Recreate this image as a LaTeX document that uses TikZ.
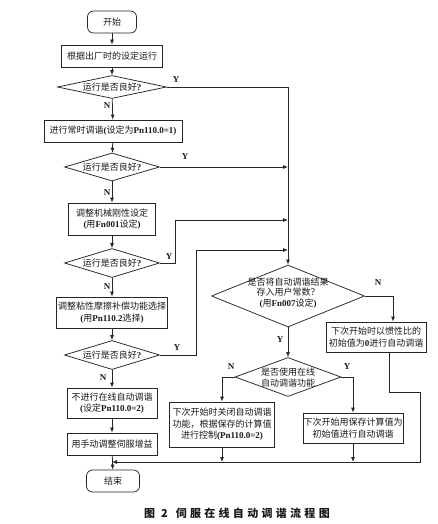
\documentclass[tikz,border=0pt]{standalone}
\usepackage{fontspec}
\setmainfont{Noto Sans CJK SC}
\newfontfamily\tnr{Liberation Serif}
\newfontfamily\capfont[LetterSpace=30]{Noto Sans CJK SC}
\newcommand\lt[1]{{\tnr\bfseries #1}}
\usetikzlibrary{shapes.geometric,arrows.meta}
\begin{document}
\begin{tikzpicture}[x=1pt,y=-1pt,
  every node/.style={font=\fontsize{9}{11.5}\selectfont, text=black!90, inner sep=0pt},
  box/.style={draw=black!85, line width=0.75pt, rectangle, align=center},
  term/.style={box, rounded corners=6pt},
  dia/.style={draw=black!85, line width=0.75pt, diamond, inner sep=0pt},
  line/.style={draw=black!85, line width=0.75pt},
  arr/.style={line, -{Latex[length=5pt,width=4pt]}},
  lab/.style={font=\tnr\bfseries\fontsize{9}{9}\selectfont}
]
\useasboundingbox (0,0) rectangle (437,524);
\fill[white] (0,0) rectangle (437,524);

% left column
\node[term, minimum width=49, minimum height=22] (st) at (112,22) {开始};
\node[box, minimum width=101, minimum height=22] (b1) at (112,56) {根据出厂时的设定运行};
\node[dia, minimum width=109, minimum height=23] (d1) at (112,87) {};
\node (d1t) at (112,87.5) {运行是否良好\lt{?}};
\node[box, minimum width=138, minimum height=22] (b2) at (113,131) {进行常时调谐\lt{(}设定为\lt{Pn110.0=1)}};
\node[dia, minimum width=95, minimum height=28] (d2) at (112,167) {};
\node (d2t) at (112,167.5) {运行是否良好\lt{?}};
\node[box, minimum width=87, minimum height=32] (b3) at (112,219) {调整机械刚性设定\\\lt{(}用\lt{Fn001}设定\lt{)}};
\node[dia, minimum width=95, minimum height=29] (d3) at (112,263) {};
\node (d3t) at (112,263.5) {运行是否良好\lt{?}};
\node[box, minimum width=111, minimum height=31] (b4) at (112,312.5) {调整粘性摩擦补偿功能选择\\\lt{(}用\lt{Pn110.2}选择\lt{)}};
\node[dia, minimum width=95, minimum height=29] (d4) at (112,355) {};
\node (d4t) at (112,355.5) {运行是否良好\lt{?}};
\node[box, minimum width=90, minimum height=30] (b5) at (112,403) {不进行在线自动调谐\\\lt{(}设定\lt{Pn110.0=2)}};
\node[box, minimum width=90, minimum height=22] (b6) at (112,444) {用手动调整伺服增益};
\node[term, minimum width=53, minimum height=22] (en) at (113,481) {结束};

% right part
\node[dia, minimum width=153, minimum height=62] (d5) at (288,296) {};
\node[align=center, font=\fontsize{9}{10.5}\selectfont] (d5t) at (288,293) {是否将自动调谐结果\\存入用户常数？\\\lt{(}用\lt{Fn007}设定\lt{)}};
\node[box, minimum width=100, minimum height=30] (b7) at (376,337) {下次开始时以惯性比的\\初始值为\lt{0}进行自动调谐};
\node[dia, minimum width=106, minimum height=39] (d6) at (288,377) {};
\node[align=center, font=\fontsize{9}{11}\selectfont] (d6t) at (288,377.5) {是否使用在线\\自动调谐功能};
\node[box, minimum width=105, minimum height=45] (b8) at (222,424.5) {下次开始时关闭自动调谐\\功能，根据保存的计算值\\进行控制\lt{(Pn110.0=2)}};
\node[box, minimum width=100, minimum height=30] (b9) at (353,428) {下次开始用保存计算值为\\初始值进行自动调谐};

% coordinates
\coordinate (c3) at (175,220);
\coordinate (c4) at (196,250);
\coordinate (c5) at (393,296);
\coordinate (c7a) at (389,392);
\coordinate (c7b) at (420,392);
\coordinate (m) at (112,462);

% left chain
\draw[arr] (st) -- (b1);
\draw[arr] (b1) -- (d1);
\draw[arr] (d1) -- (b2);
\draw[arr] (b2) -- (d2);
\draw[arr] (d2) -- (b3);
\draw[arr] (b3) -- (d3);
\draw[arr] (d3) -- (b4);
\draw[arr] (b4) -- (d4);
\draw[arr] (d4) -- (b5);
\draw[arr] (b5) -- (b6);
\draw[arr] (b6) -- (en);

% Y branches to trunk
\draw[arr] (d1.east) -| (d5.north);
\draw[arr] (d2.east) -- (d2.east -| d5.north);
\draw[arr] (d3.east) -| (c3) -- (c3 -| d5.north);
\draw[arr] (d4.east) -| (c4) -- (c4 -| d5.north);

% right branches
\draw[arr] (d5.east) -- (c5) -- (c5 |- b7.north);
\draw[arr] (d5.south) -- (d6.north);
\draw[arr] (d6.west) -| (b8.north);
\draw[arr] (d6.east) -| (b9.north);
\draw[arr] (b8.south) -- (b8.south |- m);
\draw[arr] (b9.south) -- (b9.south |- m);
\draw[arr] (b7.south -| c7a) -- (c7a) -- (c7b) -- (c7b |- m) -- (m);

% labels
\node[lab] (l1y) at (176,80) {Y};
\node[lab] (l1n) at (107,106) {N};
\node[lab] (l2y) at (185,157) {Y};
\node[lab] (l2n) at (107,193) {N};
\node[lab] (l3y) at (169,257) {Y};
\node[lab] (l3n) at (107,287) {N};
\node[lab] (l4y) at (177,348) {Y};
\node[lab] (l4n) at (103,378) {N};
\node[lab] (l5n) at (378,283) {N};
\node[lab] (l5y) at (280,340) {Y};
\node[lab] (l6n) at (231,367) {N};
\node[lab] (l6y) at (347,367) {Y};

% caption
\node[font=\capfont\bfseries\fontsize{11}{11}\selectfont] (cap) at (237,513) {图 2\hspace{8pt}伺服在线自动调谐流程图};
\end{tikzpicture}
\end{document}
